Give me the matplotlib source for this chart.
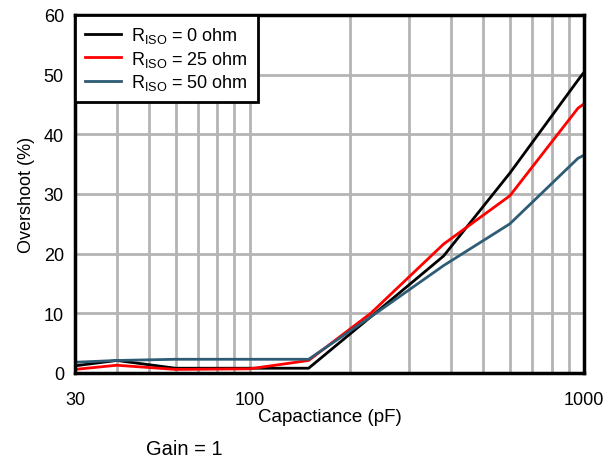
import matplotlib.pyplot as plt
from matplotlib.ticker import FixedLocator, NullFormatter

plt.rcParams['font.family'] = ['Liberation Sans', 'DejaVu Sans']
plt.rcParams['mathtext.fontset'] = 'custom'
plt.rcParams['mathtext.rm'] = 'Liberation Sans'
plt.rcParams['mathtext.it'] = 'Liberation Sans'

cap = [30, 40, 60, 100, 150, 230, 380, 600, 960, 1000]
riso_0 = [1.2, 2.1, 0.8, 0.8, 0.8, 9.4, 19.6, 33.5, 49.1, 50.4]
riso_25 = [0.6, 1.3, 0.6, 0.7, 2.1, 10.0, 21.6, 29.7, 44.4, 45.1]
riso_50 = [1.8, 2.1, 2.3, 2.3, 2.3, 9.4, 18.0, 25.0, 36.0, 36.5]

fig = plt.figure(figsize=(6.16, 4.64), dpi=100)
ax = fig.add_axes([75/616, 1 - 374/464, 509/616, 358/464])

ax.plot(cap, riso_0, color='black', lw=2, label=r'R$_{\mathrm{ISO}}$ = 0 ohm')
ax.plot(cap, riso_25, color='#ff0000', lw=2, label=r'R$_{\mathrm{ISO}}$ = 25 ohm')
ax.plot(cap, riso_50, color='#2e5c74', lw=2, label=r'R$_{\mathrm{ISO}}$ = 50 ohm')

ax.set_xscale('log')
ax.set_xlim(30, 1000)
ax.set_ylim(0, 60)
ax.xaxis.set_major_locator(FixedLocator([30, 100, 1000]))
ax.xaxis.set_minor_locator(FixedLocator([40, 50, 60, 70, 80, 90, 200, 300, 400, 500, 600, 700, 800, 900]))
ax.xaxis.set_major_formatter(plt.FuncFormatter(lambda v, p: '%d' % v))
ax.xaxis.set_minor_formatter(NullFormatter())
ax.set_yticks(range(0, 61, 10))
ax.grid(True, which='both', color='#b4b4b4', lw=2)
ax.set_axisbelow(True)
ax.tick_params(which='both', length=0, labelsize=13)
ax.tick_params(axis='x', pad=13)
ax.tick_params(axis='y', pad=8)
for s in ax.spines.values():
    s.set_linewidth(2.5)

ax.set_xlabel('Capactiance (pF)', fontsize=13.5, labelpad=0)
ax.set_ylabel('Overshoot (%)', fontsize=13, labelpad=6)

leg = ax.legend(loc='upper left', fontsize=13, fancybox=False, framealpha=1,
                edgecolor='black', borderaxespad=0, handlelength=2.0,
                labelspacing=0.2, borderpad=0.55, handletextpad=0.55)
leg.get_frame().set_linewidth(2)

fig.text(184/616, 1 - 450/464, 'Gain = 1', fontsize=14.5, ha='center', va='center')

fig.savefig('out.png', dpi=100)
